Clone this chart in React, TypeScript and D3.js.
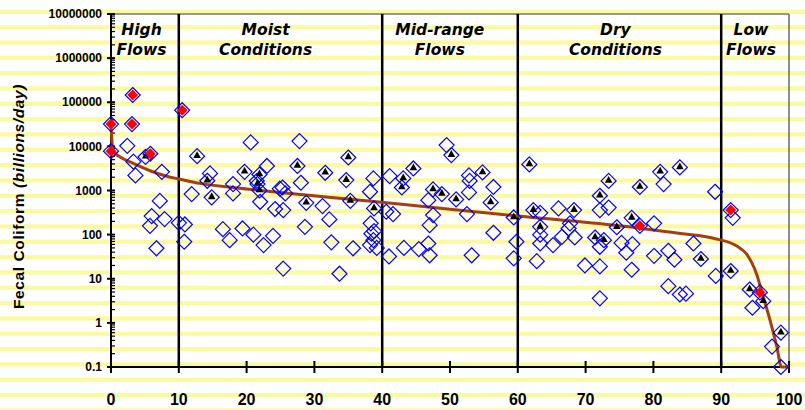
import React from "react";
import * as d3 from "d3";

const W = 805;
const H = 410;
const margin = { top: 14, right: 16, bottom: 43, left: 111 };

// zone labels: [line1, line2, x-center in percent]
const zones: [string, string, number][] = [
  ["High", "Flows", 4.5],
  ["Moist", "Conditions", 22.8],
  ["Mid-range", "Flows", 48.5],
  ["Dry", "Conditions", 74.4],
  ["Low", "Flows", 94.4],
];
const zoneBreaks = [10, 40, 60, 90];
const xTicks = [0, 10, 20, 30, 40, 50, 60, 70, 80, 90, 100];
const yTicks = [0.1, 1, 10, 100, 1000, 10000, 100000, 1000000, 10000000];

// load duration curve
const curveX = [0, 0.3, 1.3, 3.3, 5.75, 8.2, 10.2, 13.1, 18, 25, 38, 50, 60, 71.6, 78, 84, 89, 92.3, 93.7, 95.2, 96.2, 97.2, 98.2, 98.9, 100];
const curveY = [30000, 7800, 5800, 4100, 2800, 2100, 1800, 1450, 1170, 900, 580, 375, 265, 180, 140, 106, 82, 55, 37, 13, 3.9, 1.15, 0.29, 0.1, 0.1];

// observed loads (open diamonds)
const openPts: [number, number][] = [
  [2.4, 10300], [3.3, 4500], [3.6, 2200], [7.5, 2650], [7.2, 580], [6.0, 263], [5.75, 158],
  [7.9, 225], [10.0, 185], [10.9, 170], [10.8, 69], [6.7, 49], [11.9, 830], [14.6, 2440],
  [18.0, 1400], [18.0, 860], [16.5, 133], [17.5, 75], [19.4, 138], [20.6, 12300], [21.0, 100],
  [21.5, 1640], [22.0, 555], [22.5, 58], [23.0, 3600], [23.9, 94], [24.2, 380], [24.9, 1100],
  [25.3, 1170], [25.7, 860], [25.4, 360], [25.4, 17], [27.8, 13200], [28.0, 1500], [28.6, 150],
  [31.2, 443], [32.2, 221], [32.5, 67], [33.7, 13], [35.7, 49], [38.7, 1880], [38.2, 935],
  [38.3, 180], [38.4, 105], [38.8, 120], [38.7, 75], [38.2, 58], [39.2, 50], [40.6, 330],
  [41.1, 2120], [41.6, 292], [41.0, 32], [43.2, 50], [45.4, 47], [46.8, 605], [46.8, 63],
  [47.0, 34], [47.0, 164], [47.5, 277], [49.5, 10700], [52.8, 2200], [52.9, 1650], [52.8, 905],
  [52.5, 292], [53.2, 34], [56.4, 1200], [56.4, 110], [59.8, 69], [59.4, 29], [63.3, 312],
  [63.3, 100], [63.3, 63], [62.8, 25], [66.0, 393], [67.7, 180], [67.5, 138], [66.5, 89],
  [65.2, 58], [68.4, 86], [69.9, 20], [72.1, 19], [72.1, 3.6], [72.1, 53], [73.4, 410],
  [72.1, 360], [75.3, 65], [76.9, 61], [76.0, 39], [76.8, 16], [80.1, 180], [81.5, 1400],
  [80.1, 33], [82.2, 43], [83.1, 27], [82.2, 6.8], [83.9, 4.4], [84.8, 4.6], [85.9, 63],
  [89.1, 935], [89.2, 11.6], [91.7, 240], [94.6, 2.2], [97.5, 0.29], [98.8, 0.1],
];

// loads with triangle marker
const triPts: [number, number][] = [
  [5.1, 5800], [12.7, 6000], [14.2, 1660], [14.85, 700], [19.7, 2650], [21.9, 2300], [21.6, 1400],
  [21.9, 1000], [27.5, 3600], [28.8, 526], [31.6, 2520], [34.7, 1720], [35.0, 5600], [35.3, 583],
  [38.8, 393], [42.9, 1170], [43.1, 1880], [44.6, 3160], [47.5, 1060], [48.8, 830], [50.2, 6350],
  [50.9, 628], [54.8, 2570], [56.0, 537], [59.4, 245], [61.7, 3900], [62.3, 360], [63.3, 150],
  [68.3, 360], [71.4, 86], [72.1, 760], [72.7, 75], [73.4, 1650], [74.6, 147], [76.8, 240],
  [78.0, 1200], [81.0, 2650], [83.9, 3340], [87.0, 28], [91.4, 15], [94.2, 5.7], [96.2, 3.1],
  [98.8, 0.6],
];

// loads with red marker
const redPts: [number, number][] = [
  [0, 32000], [0, 7800], [3.2, 146000], [3.1, 32000], [5.8, 6800], [10.5, 66000],
  [78.0, 158], [91.4, 360], [95.7, 4.9],
];

const diamond = (r: number) => `M0,${-r}L${r},0L0,${r}L${-r},0Z`;
const tri = "M0,-5L3.8,1.8L-3.8,1.8Z";

const App = () => {
  const x = d3.scaleLinear().domain([0, 100]).range([margin.left, W - margin.right]);
  const y = d3.scaleLog().domain([0.1, 1e7]).range([H - margin.bottom, margin.top]);
  const x0 = x(0), x1 = x(100), yb = y(0.1), yt = y(1e7);

  const stripes = d3.range(0, 27).map((i) => 11.7 + i * 15.33);
  const minor = y.ticks().filter((v) => !yTicks.some((t) => Math.abs(t - v) / t < 1e-6));

  const line = d3
    .line<number>()
    .x((_, i) => x(curveX[i]))
    .y((d) => y(d))
    .curve(d3.curveMonotoneX);

  const font = "'Comic Sans MS', 'Liberation Sans', sans-serif";
  const zoneFont = "'Comic Sans MS', 'DejaVu Sans', sans-serif";

  return (
    <div style={{ position: "absolute", left: 0, top: 0 }}>
      <svg width={W} height={H} style={{ display: "block", background: "#fff" }}>
        {stripes.map((s, i) => (
          <rect key={i} x={0} y={s - 2} width={W} height={4.2} fill="#FCFA9E" />
        ))}
        {/* frame */}
        <line x1={x0} x2={x1} y1={yt} y2={yt} stroke="#777" strokeWidth={1.5} />
        <line x1={x1} x2={x1} y1={yt} y2={yb} stroke="#444" strokeWidth={1.2} />
        {zoneBreaks.map((b) => (
          <line key={b} x1={x(b)} x2={x(b)} y1={yt} y2={yb} stroke="#000" strokeWidth={2.5} />
        ))}
        {/* zone labels */}
        {zones.map(([a, b, c]) => (
          <text
            key={a + b}
            x={x(c)}
            textAnchor="middle"
            fontFamily={zoneFont}
            fontStyle="italic"
            fontWeight="bold"
            fontSize={15.5}
            fill="#000"
          >
            <tspan x={x(c)} y={35}>{a}</tspan>
            <tspan x={x(c)} y={55}>{b}</tspan>
          </text>
        ))}
        {/* y axis */}
        <line x1={x0} x2={x0} y1={yt} y2={yb} stroke="#000" strokeWidth={2} />
        {minor.map((v, i) => (
          <line key={i} x1={x0} x2={x0 + 4} y1={y(v)} y2={y(v)} stroke="#000" strokeWidth={1.2} />
        ))}
        {yTicks.map((t) => (
          <g key={t}>
            <line x1={x0 - 4} x2={x0 + 4} y1={y(t)} y2={y(t)} stroke="#000" strokeWidth={2} />
            <text
              x={x0 - 9}
              y={y(t)}
              dy="0.35em"
              textAnchor="end"
              fontFamily={font}
              fontWeight="bold"
              fontSize={12}
            >
              {String(t)}
            </text>
          </g>
        ))}
        {/* x axis */}
        <line x1={x0} x2={x1} y1={yb} y2={yb} stroke="#000" strokeWidth={2} />
        {xTicks.map((t) => (
          <g key={t}>
            <line x1={x(t)} x2={x(t)} y1={yb - 6} y2={yb + 6} stroke="#000" strokeWidth={2} />
            <text
              x={x(t)}
              y={405}
              textAnchor="middle"
              fontFamily={font}
              fontWeight="bold"
              fontSize={16}
            >
              {t}
            </text>
          </g>
        ))}
        {/* axis title */}
        <text
          transform={`translate(24,${(yt + yb) / 2 + 6}) rotate(-90)`}
          textAnchor="middle"
          fontFamily={font}
          fontSize={15.5}
          fontWeight="bold"
          letterSpacing={0.6}
        >
          Fecal Coliform <tspan fontStyle="italic">(billions/day)</tspan>
        </text>
        {/* curve */}
        <path d={line(curveY) || ""} fill="none" stroke="#A3400B" strokeWidth={3} />
        {/* points */}
        {openPts.map(([a, b], i) => (
          <path key={"o" + i} d={diamond(7.5)} transform={`translate(${x(a)},${y(b)})`} fill="none" stroke="#0000FF" strokeWidth={1.2} />
        ))}
        {triPts.map(([a, b], i) => (
          <g key={"t" + i} transform={`translate(${x(a)},${y(b)})`}>
            <path d={diamond(7.5)} fill="none" stroke="#0000FF" strokeWidth={1.2} />
            <path d={tri} fill="#000" />
          </g>
        ))}
        {redPts.map(([a, b], i) => (
          <g key={"r" + i} transform={`translate(${x(a)},${y(b)})`}>
            <path d={diamond(7.5)} fill="none" stroke="#0000FF" strokeWidth={1.2} />
            <path d={diamond(5.5)} fill="#FF0000" />
          </g>
        ))}
      </svg>
    </div>
  );
};

export default App;
